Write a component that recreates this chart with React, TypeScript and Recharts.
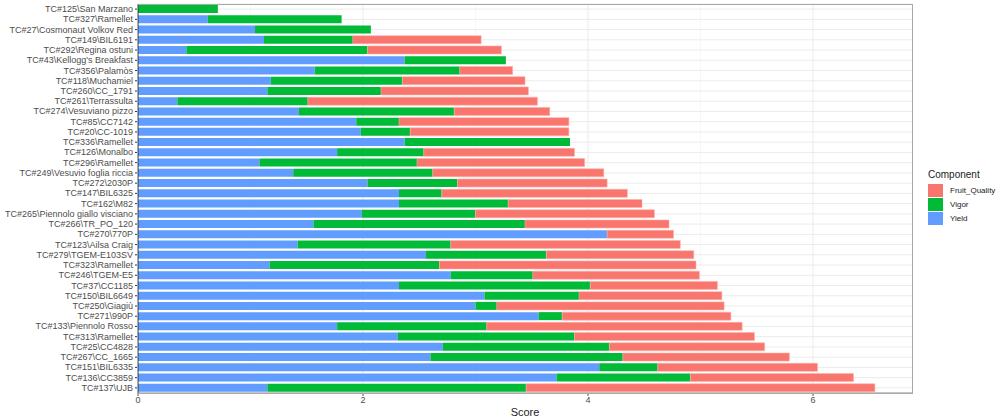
import React from 'react';
import { BarChart, Bar, XAxis, YAxis, CartesianGrid } from 'recharts';

// Génotypes, du haut vers le bas
const categories = [
  'TC#125\\San Marzano',
  'TC#327\\Ramellet',
  'TC#27\\Cosmonaut Volkov Red',
  'TC#149\\BIL6191',
  'TC#292\\Regina ostuni',
  "TC#43\\Kellogg's Breakfast",
  'TC#356\\Palamòs',
  'TC#118\\Muchamiel',
  'TC#260\\CC_1791',
  'TC#261\\Terrassulta',
  'TC#274\\Vesuviano pizzo',
  'TC#85\\CC7142',
  'TC#20\\CC-1019',
  'TC#336\\Ramellet',
  'TC#126\\Monalbo',
  'TC#296\\Ramellet',
  'TC#249\\Vesuvio foglia riccia',
  'TC#272\\2030P',
  'TC#147\\BIL6325',
  'TC#162\\M82',
  'TC#265\\Piennolo giallo visciano',
  'TC#266\\TR_PO_120',
  'TC#270\\770P',
  'TC#123\\Ailsa Craig',
  'TC#279\\TGEM-E103SV',
  'TC#323\\Ramellet',
  'TC#246\\TGEM-E5',
  'TC#37\\CC1185',
  'TC#150\\BIL6649',
  'TC#250\\Giagiù',
  'TC#271\\990P',
  'TC#133\\Piennolo Rosso',
  'TC#313\\Ramellet',
  'TC#25\\CC4828',
  'TC#267\\CC_1665',
  'TC#151\\BIL6335',
  'TC#136\\CC3859',
  'TC#137\\UJB',
];

const yieldScores = [
  0, 0.62, 1.04, 1.12, 0.43, 2.37, 1.57, 1.18, 1.15, 0.35, 1.43, 1.94, 1.98, 2.37, 1.77, 1.08, 1.38, 2.04, 2.32,
  2.32, 1.99, 1.56, 4.17, 1.42, 2.56, 1.17, 2.78, 2.32, 3.08, 3.0, 3.56, 1.77, 2.31, 2.71, 2.6, 4.1, 3.72, 1.15,
];

const vigorScores = [
  0.71, 1.19, 1.03, 0.79, 1.61, 0.9, 1.29, 1.17, 1.01, 1.16, 1.38, 0.38, 0.44, 1.47, 0.77, 1.4, 1.24, 0.8, 0.38,
  0.97, 1.01, 1.88, 0, 1.36, 1.07, 1.51, 0.73, 1.7, 0.84, 0.19, 0.21, 1.33, 1.57, 1.48, 1.71, 0.52, 1.19, 2.3,
];

const fruitQualityScores = [
  0, 0, 0, 1.14, 1.19, 0, 0.47, 1.09, 1.31, 2.04, 0.85, 1.51, 1.41, 0, 1.34, 1.49, 1.52, 1.33, 1.65,
  1.19, 1.59, 1.28, 0.59, 2.04, 1.31, 2.28, 1.48, 1.13, 1.27, 2.02, 1.5, 2.27, 1.6, 1.38, 1.48, 1.42, 1.45, 3.1,
];

const xTicks = [0, 2, 4, 6];
const minorTicks = [1, 3, 5];

// ordre de la légende (comme ggplot)
const components = [
  { key: 'Fruit_Quality', color: '#F8766D' },
  { key: 'Vigor', color: '#00BA38' },
  { key: 'Yield', color: '#619CFF' },
];

const chartData = categories.map((name, i) => ({
  name,
  Yield: yieldScores[i],
  Vigor: vigorScores[i],
  Fruit_Quality: fruitQualityScores[i],
}));

const FONT = '"Liberation Sans", Arial, sans-serif';

// libellé sur une seule ligne
const CategoryTick = (props: any) => {
  const { x, y, payload } = props;
  return (
    <text x={x} y={y} dy={3} textAnchor="end" fontSize={9} fill="#4d4d4d" fontFamily={FONT}>
      {payload.value}
    </text>
  );
};

const LegendBox = () => (
  <div style={{ position: 'absolute', left: 928, top: 169, fontFamily: FONT, color: '#222' }}>
    <div style={{ fontSize: 10, marginBottom: 3 }}>Component</div>
    {components.map((c) => (
      <div key={c.key} style={{ display: 'flex', alignItems: 'center', height: 14 }}>
        <div style={{ width: 15, height: 13, background: c.color, marginRight: 7 }} />
        <span style={{ fontSize: 8 }}>{c.key}</span>
      </div>
    ))}
  </div>
);

const App: React.FC = () => {
  return (
    <div style={{ position: 'absolute', left: 0, top: 0, width: 1008, height: 418, background: '#fff' }}>
      <BarChart
        width={1008}
        height={418}
        data={chartData}
        layout="vertical"
        margin={{ top: 4, right: 96, left: 0, bottom: 0 }}
        barCategoryGap="10%"
      >
        <CartesianGrid stroke="#f5f5f5" strokeWidth={0.8} horizontal={false} verticalValues={minorTicks} />
        <CartesianGrid stroke="#ebebeb" strokeWidth={1} verticalValues={xTicks} />
        <XAxis
          type="number"
          domain={[0, 6.88]}
          ticks={xTicks}
          allowDataOverflow
          height={25}
          tickSize={3}
          tickMargin={1}
          tick={{ fontSize: 9, fill: '#4d4d4d', fontFamily: FONT }}
          axisLine={{ stroke: '#9a9a9a', strokeWidth: 1.2 }}
          tickLine={{ stroke: '#555' }}
          label={{ value: 'Score', position: 'insideBottom', offset: 2, fontSize: 11, fill: '#222', fontFamily: FONT }}
        />
        <YAxis
          type="category"
          dataKey="name"
          width={138}
          interval={0}
          tickSize={3}
          tickMargin={2}
          tick={<CategoryTick />}
          axisLine={{ stroke: '#333', strokeWidth: 1 }}
          tickLine={{ stroke: '#333' }}
        />
        <Bar dataKey="Yield" stackId="s" fill="#619CFF" isAnimationActive={false} />
        <Bar dataKey="Vigor" stackId="s" fill="#00BA38" isAnimationActive={false} />
        <Bar
          dataKey="Fruit_Quality"
          stackId="s"
          fill="#F8766D"
          stroke="#FBB0AA"
          strokeWidth={0.6}
          isAnimationActive={false}
        />
      </BarChart>
      <div
        style={{
          position: 'absolute',
          left: 137,
          top: 4,
          width: 774,
          height: 388,
          border: '1.2px solid #a8a8a8',
          pointerEvents: 'none',
        }}
      />
      <LegendBox />
    </div>
  );
};

export default App;
